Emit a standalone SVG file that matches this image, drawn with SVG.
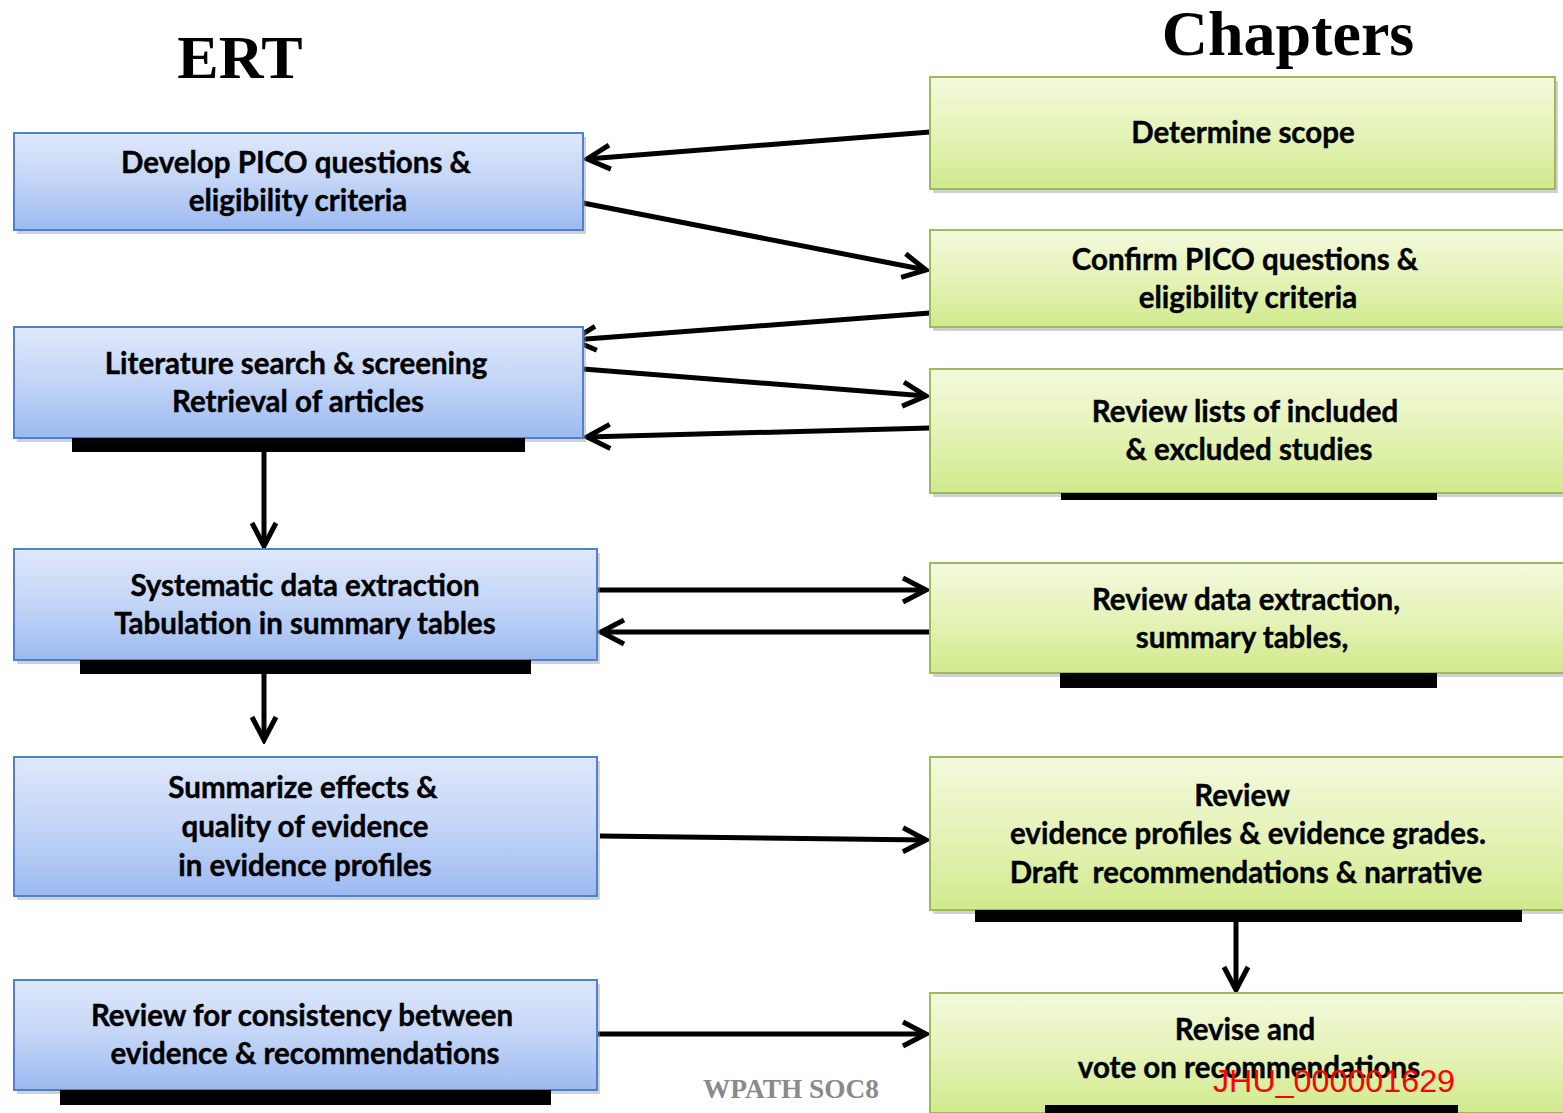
<svg xmlns="http://www.w3.org/2000/svg" width="1563" height="1113" viewBox="0 0 1563 1113">
<defs>
<linearGradient id="gb" x1="0" y1="0" x2="0" y2="1">
<stop offset="0" stop-color="#dfe8fb"/>
<stop offset="0.5" stop-color="#c3d5f7"/>
<stop offset="1" stop-color="#9cbaf0"/>
</linearGradient>
<linearGradient id="gg" x1="0" y1="0" x2="0" y2="1">
<stop offset="0" stop-color="#f3f9dc"/>
<stop offset="0.5" stop-color="#e5f3b8"/>
<stop offset="1" stop-color="#d0ea8c"/>
</linearGradient>
<marker id="ah" viewBox="0 0 32 32" markerWidth="32" markerHeight="32" refX="28" refY="16" orient="auto" markerUnits="userSpaceOnUse">
<path d="M5,4 L28,16 L5,28" fill="none" stroke="#000" stroke-width="5" stroke-linejoin="miter"/>
</marker>
</defs>
<style>
.blue{fill:url(#gb);stroke:#4f81d0;stroke-width:2}
.green{fill:url(#gg);stroke:#9bbb59;stroke-width:2}
.sh{fill:#9a9a9a;opacity:0.45}
.bar{fill:#000}
.t{font-family:Lato,"Liberation Sans",sans-serif;font-weight:bold;font-size:29.5px;fill:#000;text-anchor:middle;stroke:#000;stroke-width:0.4}
.h{font-family:"Liberation Serif",serif;font-weight:bold;fill:#000;text-anchor:middle}
.c{stroke:#000;stroke-width:5;fill:none;marker-end:url(#ah)}
</style>
<rect width="1563" height="1113" fill="#fff"/>
<text class="h" x="240" y="78" font-size="62">ERT</text>
<text class="h" x="1288" y="55" font-size="64">Chapters</text>

<g id="connectors">
<line class="c" x1="930" y1="132" x2="587" y2="159"/>
<line class="c" x1="583" y1="203" x2="926" y2="270"/>
<line class="c" x1="930" y1="313" x2="573" y2="340"/>
<line class="c" x1="583" y1="369" x2="926" y2="396"/>
<line class="c" x1="930" y1="428" x2="587" y2="437"/>
<line class="c" x1="264" y1="452" x2="264" y2="546"/>
<line class="c" x1="597" y1="590" x2="926" y2="590"/>
<line class="c" x1="930" y1="632" x2="601" y2="632"/>
<line class="c" x1="264" y1="674" x2="264" y2="740"/>
<line class="c" x1="600" y1="836" x2="926" y2="840"/>
<line class="c" x1="1236" y1="922" x2="1236" y2="990"/>
<line class="c" x1="597" y1="1034" x2="926" y2="1034"/>
</g>

<g id="ert1">
<rect class="sh" x="17" y="137" width="569" height="97"/>
<rect class="blue" x="14" y="133" width="569" height="97"/>
<text class="t" x="296" y="173">Develop PICO questions &amp;</text>
<text class="t" x="298" y="211">eligibility criteria</text>
</g>
<g id="ert2">
<rect class="sh" x="17" y="331" width="569" height="111"/>
<rect class="blue" x="14" y="327" width="569" height="111"/>
<rect class="bar" x="72" y="438" width="453" height="14"/>
<text class="t" x="296" y="374">Literature search &amp; screening</text>
<text class="t" x="298" y="412">Retrieval of articles</text>
</g>
<g id="ert3">
<rect class="sh" x="17" y="553" width="583" height="111"/>
<rect class="blue" x="14" y="549" width="583" height="111"/>
<rect class="bar" x="80" y="660" width="451" height="14"/>
<text class="t" x="305" y="596">Systematic data extraction</text>
<text class="t" x="305" y="634">Tabulation in summary tables</text>
</g>
<g id="ert4">
<rect class="sh" x="17" y="761" width="583" height="139"/>
<rect class="blue" x="14" y="757" width="583" height="139"/>
<text class="t" x="303" y="798">Summarize effects &amp;</text>
<text class="t" x="305" y="837">quality of evidence</text>
<text class="t" x="305" y="876">in evidence profiles</text>
</g>
<g id="ert5">
<rect class="sh" x="17" y="984" width="583" height="110"/>
<rect class="blue" x="14" y="980" width="583" height="110"/>
<rect class="bar" x="60" y="1090" width="491" height="15"/>
<text class="t" x="302" y="1026">Review for consistency between</text>
<text class="t" x="305" y="1064">evidence &amp; recommendations</text>
</g>

<g id="ch1">
<rect class="sh" x="933" y="81" width="625" height="112"/>
<rect class="green" x="930" y="77" width="625" height="112"/>
<text class="t" x="1243" y="143">Determine scope</text>
</g>
<g id="ch2">
<rect class="sh" x="933" y="234" width="640" height="97"/>
<rect class="green" x="930" y="230" width="640" height="97"/>
<text class="t" x="1245" y="270">Confirm PICO questions &amp;</text>
<text class="t" x="1248" y="308">eligibility criteria</text>
</g>
<g id="ch3">
<rect class="sh" x="933" y="373" width="640" height="124"/>
<rect class="green" x="930" y="369" width="640" height="124"/>
<rect class="bar" x="1061" y="493" width="376" height="7"/>
<text class="t" x="1245" y="422">Review lists of included</text>
<text class="t" x="1249" y="460">&amp; excluded studies</text>
</g>
<g id="ch4">
<rect class="sh" x="933" y="567" width="640" height="110"/>
<rect class="green" x="930" y="563" width="640" height="110"/>
<rect class="bar" x="1060" y="673" width="377" height="15"/>
<text class="t" x="1246" y="610">Review data extraction,</text>
<text class="t" x="1242" y="648">summary tables,</text>
</g>
<g id="ch5">
<rect class="sh" x="933" y="761" width="640" height="153"/>
<rect class="green" x="930" y="757" width="640" height="153"/>
<rect class="bar" x="975" y="910" width="547" height="12"/>
<text class="t" x="1242" y="806">Review</text>
<text class="t" x="1248" y="844">evidence profiles &amp; evidence grades.</text>
<text class="t" x="1246" y="883" xml:space="preserve">Draft  recommendations &amp; narrative</text>
</g>
<g id="ch6">
<rect class="sh" x="933" y="997" width="640" height="120"/>
<rect class="green" x="930" y="993" width="640" height="120"/>
<rect class="bar" x="1045" y="1105" width="413" height="8"/>
<text class="t" x="1245" y="1040">Revise and</text>
<text class="t" x="1249" y="1078">vote on recommendations</text>
</g>

<text x="791" y="1098" font-family="Liberation Serif,serif" font-weight="bold" font-size="27" fill="#8a8a8a" text-anchor="middle" textLength="176" lengthAdjust="spacingAndGlyphs">WPATH SOC8</text>
<text x="1334" y="1092" font-family="Liberation Sans,sans-serif" font-size="32" fill="#ff0000" text-anchor="middle" textLength="242" lengthAdjust="spacingAndGlyphs">JHU_000001629</text>
</svg>
